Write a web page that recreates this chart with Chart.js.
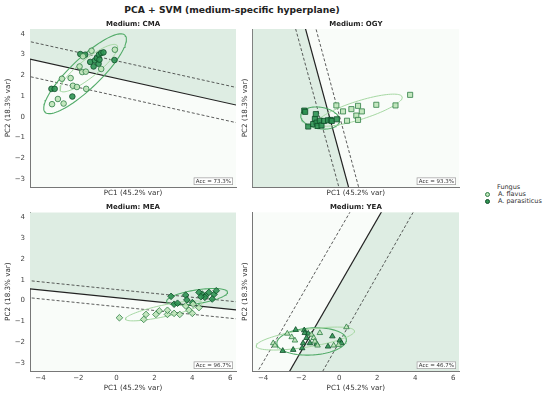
<!DOCTYPE html>
<html>
<head>
<meta charset="utf-8">
<script src="https://cdn.jsdelivr.net/npm/chart.js@4.4.0/dist/chart.umd.min.js"></script>
<style>
  body { margin: 0; background: #fff; width: 550px; height: 394px; overflow: hidden; position: relative; font-family: 'DejaVu Sans', sans-serif; }
  canvas { position: absolute; left: 0; top: 0; }
  #title { position: absolute; left: 0; width: 464px; top: 3.5px; line-height: 11px; text-align: center; font-weight: bold; font-size: 9.2px; color: #222; }
  .lg { position: absolute; font-size: 6.5px; color: #333; line-height: 8px; white-space: nowrap; }
  .mk { position: absolute; width: 5px; height: 5px; border-radius: 50%; box-sizing: border-box; }
</style>
</head>
<body>
<div id="title">PCA + SVM (medium-specific hyperplane)</div>
<div class="lg" style="left:497px;top:183px">Fungus</div>
<span class="mk" style="left:485px;top:191.5px;background:#bfe5b9;border:0.9px solid #2e7d45"></span>
<div class="lg" style="left:498px;top:190px">A. flavus</div>
<span class="mk" style="left:485px;top:198.5px;background:#2f9453;border:0.9px solid #0f4d28"></span>
<div class="lg" style="left:498px;top:197px">A. parasiticus</div>
<canvas id="c0" width="550" height="394"></canvas>
<canvas id="c1" width="550" height="394"></canvas>
<canvas id="c2" width="550" height="394"></canvas>
<canvas id="c3" width="550" height="394"></canvas>
<script>
// axes (shared by the four panels)
const xTicks = [-4, -2, 0, 2, 4, 6];
const yTicks = [-3, -2, -1, 0, 1, 2, 3, 4];
const xRange = [-4.55, 6.3];
const yRange = [-3.39, 4.24];

const media = ['CMA', 'OGY', 'MEA', 'YEA'];
const accuracy = ['73.3%', '93.3%', '96.7%', '46.7%'];

// PCA scores [PC1, PC2]
const cmaFlavus = [[-3.39,0.61],[-3.08,0.86],[-2.78,0.64],[-2.87,1.84],[-2.41,1.87],[-2.29,1.50],[-2.08,1.44],[-1.59,1.35],[-1.94,2.43],[-1.80,2.16],[-1.61,2.18],[-1.31,3.19],[-0.80,2.31],[-0.08,3.24],[-1.76,2.92]];
const cmaParasiticus = [[-3.42,1.35],[-3.25,1.35],[-2.32,0.98],[-1.90,3.03],[-1.64,3.00],[-1.38,2.65],[-1.20,2.43],[-1.13,2.72],[-1.03,2.84],[-0.92,3.00],[-0.80,3.08],[-0.68,3.11],[-0.94,2.56],[-0.10,2.74],[-0.89,2.76]];

const ogyFlavus = [[-0.15,0.55],[0.20,0.26],[0.64,0.37],[0.99,0.53],[1.19,0.26],[0.90,0.06],[0.99,-0.15],[0.41,-0.19],[1.95,0.58],[2.96,0.55],[3.73,1.06]];
const ogyParasiticus = [[-1.84,0.30],[-1.79,0.24],[-1.63,-0.47],[-1.37,-0.35],[-1.28,-0.10],[-1.23,0.13],[-1.19,-0.28],[-1.14,-0.44],[-1.02,-0.19],[-0.93,-0.42],[-0.80,-0.20],[-0.59,-0.17],[-0.45,-0.15],[-0.39,-0.20],[-0.13,-0.12]];

const meaFlavus = [[0.16,-0.83],[1.44,-0.91],[1.56,-0.67],[2.08,-0.67],[2.26,-0.50],[2.69,-0.67],[2.69,-0.47],[3.04,-0.62],[3.34,-0.67],[3.83,-0.47],[4.00,-0.62],[4.35,-0.34],[3.65,-0.26],[4.04,-0.18]];
const meaParasiticus = [[2.88,0.20],[3.65,0.26],[3.71,0.03],[4.00,-0.10],[4.52,0.31],[4.70,0.23],[4.87,0.39],[5.14,0.29],[5.26,0.47],[5.05,0.07],[4.66,0.15],[3.04,-0.18],[3.22,-0.13],[4.35,0.39],[4.45,0.18]];

const yeaFlavus = [[-3.47,-2.05],[-3.38,-2.16],[-2.73,-1.59],[-2.50,-1.76],[-2.33,-1.92],[-1.46,-1.64],[-1.34,-1.80],[-1.28,-1.97],[-1.14,-2.16],[-1.02,-1.56],[-0.29,-2.16],[-0.03,-2.13],[0.38,-1.28]];
const yeaParasiticus = [[-2.29,-1.41],[-1.84,-1.43],[-1.81,-1.56],[-1.63,-1.59],[-1.72,-1.80],[-1.90,-2.05],[-1.54,-2.05],[-1.19,-2.08],[-2.97,-2.42],[-2.42,-2.37],[-1.95,-2.29],[-0.59,-2.21],[-0.36,-1.72],[0.03,-1.92],[0.12,-2.05]];

// SVM hyperplane and margins, two points on each line
const cmaLines = { boundary: [[-4.55,2.79],[6.3,0.57]], marginA: [[-4.55,3.63],[6.3,1.42]], marginB: [[-4.55,1.94],[6.3,-0.28]] };
const ogyLines = { boundary: [[-1.77,4.24],[0.49,-3.39]], marginA: [[-2.29,4.24],[-0.02,-3.39]], marginB: [[-1.22,4.24],[1.02,-3.39]] };
const meaLines = { boundary: [[-4.55,0.56],[6.3,-0.45]], marginA: [[-4.55,0.95],[6.3,-0.06]], marginB: [[-4.55,0.13],[6.3,-0.88]] };
const yeaLines = { boundary: [[-2.6,-3.39],[2.21,4.24]], marginA: [[-4.27,-3.39],[0.56,4.24]], marginB: [[-0.86,-3.39],[3.89,4.24]] };

// confidence ellipses [cx, cy, semi-major, semi-minor, angle deg]
const cmaEllipses = { flavus: [-1.45,2.35,1.85,0.45,36], parasiticus: [-1.65,2.08,2.81,0.75,41] };
const ogyEllipses = { flavus: [1.07,0.32,2.33,0.45,16], parasiticus: [-1.0,-0.06,1.03,0.52,-8] };
const meaEllipses = { flavus: [2.5,-0.5,2.06,0.28,11], parasiticus: [4.25,0.18,1.62,0.33,8] };
const yeaEllipses = { flavus: [-1.78,-1.83,2.61,0.42,8], parasiticus: [-1.45,-1.97,1.83,0.65,3] };

const GREEN_ZONE = 'rgb(222,237,227)';
const WHITE_ZONE = 'rgb(249,252,249)';
const FONT = "'DejaVu Sans', sans-serif";

const panels = [
  { flavus: cmaFlavus, para: cmaParasiticus, lines: cmaLines, ell: cmaEllipses, green: 'end', marker: 'circle', r: 2.8,
    area: { left: 30, top: 29, right: 236, bottom: 187 }, col: 0, row: 0 },
  { flavus: ogyFlavus, para: ogyParasiticus, lines: ogyLines, ell: ogyEllipses, green: 'start', marker: 'rect', r: 3.6,
    area: { left: 252.7, top: 29, right: 459, bottom: 187 }, col: 1, row: 0 },
  { flavus: meaFlavus, para: meaParasiticus, lines: meaLines, ell: meaEllipses, green: 'end', marker: 'rectRot', r: 3.3,
    area: { left: 30, top: 212.3, right: 236, bottom: 371 }, col: 0, row: 1 },
  { flavus: yeaFlavus, para: yeaParasiticus, lines: yeaLines, ell: yeaEllipses, green: 'start', marker: 'triangle', r: 3.2,
    area: { left: 252.7, top: 212.3, right: 459, bottom: 371 }, col: 1, row: 1 }
];

const toXY = pts => pts.map(([x, y]) => ({ x, y }));

// stretch a two-point line well past the frame (the chart clips it)
function extend([[x1, y1], [x2, y2]]) {
  return [-4, 5].map(t => ({ x: x1 + (x2 - x1) * t, y: y1 + (y2 - y1) * t }));
}

function ellipse([cx, cy, a, b, deg]) {
  const r = deg * Math.PI / 180, pts = [];
  for (let i = 0; i <= 90; i++) {
    const t = i / 90 * 2 * Math.PI;
    pts.push({
      x: cx + a * Math.cos(t) * Math.cos(r) - b * Math.sin(t) * Math.sin(r),
      y: cy + a * Math.cos(t) * Math.sin(r) + b * Math.sin(t) * Math.cos(r)
    });
  }
  return pts;
}

const zoneBackground = {
  id: 'zoneBackground',
  beforeDraw(chart) {
    const { ctx, chartArea: a } = chart;
    ctx.save();
    ctx.fillStyle = WHITE_ZONE;
    ctx.fillRect(a.left, a.top, a.right - a.left, a.bottom - a.top);
    ctx.restore();
  }
};

const accBox = {
  id: 'accBox',
  afterDatasetsDraw(chart, args, opts) {
    const { ctx, chartArea: a } = chart;
    ctx.save();
    ctx.font = '5.5px ' + FONT;
    const txt = 'Acc = ' + opts.text;
    const w = ctx.measureText(txt).width + 4, h = 7.5;
    const x = a.right - 3 - w, y = a.bottom - 2 - h;
    ctx.fillStyle = 'rgba(255,255,255,0.9)';
    ctx.fillRect(x, y, w, h);
    ctx.strokeStyle = '#999';
    ctx.lineWidth = 0.7;
    ctx.strokeRect(x + 0.35, y + 0.35, w - 0.7, h - 0.7);
    ctx.fillStyle = '#333';
    ctx.textBaseline = 'middle';
    ctx.fillText(txt, x + 2, y + h / 2 + 0.3);
    ctx.restore();
  }
};

panels.forEach((p, i) => {
  const yw = p.col === 0 ? 26.3 : 12;
  const yTitleLeft = p.col === 0 ? 3.7 : 240.7;
  const xh = p.row === 0 ? 10.3 : 21.3;
  const titleH = 9.2;

  const lineDs = (pts, dash, width, color) => ({
    type: 'line', data: extend(pts), borderColor: color, borderWidth: width, borderDash: dash,
    pointRadius: 0, fill: false, tension: 0, order: 2
  });

  new Chart(document.getElementById('c' + i), {
    type: 'scatter',
    data: {
      datasets: [
        { label: 'A. flavus', data: toXY(p.flavus), pointStyle: p.marker, pointRadius: p.r,
          backgroundColor: 'rgba(190,228,184,0.9)', borderColor: '#2e7d45', borderWidth: 0.8, order: 0 },
        { label: 'A. parasiticus', data: toXY(p.para), pointStyle: p.marker, pointRadius: p.r,
          backgroundColor: 'rgba(47,148,83,0.9)', borderColor: '#0f4d28', borderWidth: 0.8, order: 0 },
        { type: 'line', data: ellipse(p.ell.flavus), borderColor: '#a6d8a3', borderWidth: 1, pointRadius: 0, fill: false, order: 1 },
        { type: 'line', data: ellipse(p.ell.parasiticus), borderColor: '#52ab69', borderWidth: 1.1, pointRadius: 0, fill: false, order: 1 },
        lineDs(p.lines.boundary, [], 1.2, '#222'),
        lineDs(p.lines.marginA, [3, 2], 0.8, '#333'),
        lineDs(p.lines.marginB, [3, 2], 0.8, '#333'),
        { type: 'line', data: extend(p.lines.boundary), borderWidth: 0, pointRadius: 0,
          fill: p.green, backgroundColor: GREEN_ZONE, order: 3 }
      ]
    },
    options: {
      responsive: false,
      animation: false,
      devicePixelRatio: 1,
      events: [],
      layout: {
        padding: {
          left: yTitleLeft,
          right: 550 - p.area.right,
          top: p.area.top - titleH,
          bottom: 394 - p.area.bottom - xh
        }
      },
      plugins: {
        legend: { display: false },
        tooltip: { enabled: false },
        title: {
          display: true, fullSize: false, text: 'Medium: ' + media[i], color: '#222',
          font: { family: FONT, size: 7, weight: 'bold' }, padding: { top: 0, bottom: 0.8 }
        },
        accBox: { text: accuracy[i] }
      },
      scales: {
        x: {
          type: 'linear', min: xRange[0], max: xRange[1],
          afterBuildTicks: s => { s.ticks = xTicks.map(v => ({ value: v })); },
          afterFit: s => { s.height = xh; },
          grid: { display: true, drawOnChartArea: false, drawTicks: false },
          border: { display: true, color: '#777', width: 1 },
          ticks: { display: p.row === 1, padding: 3, color: '#444', font: { family: FONT, size: 7 },
            maxRotation: 0, callback: v => String(v).replace('-', '\u2212') },
          title: { display: true, text: 'PC1 (45.2% var)', color: '#333', font: { family: FONT, size: 7.2 }, padding: 0 }
        },
        y: {
          type: 'linear', min: yRange[0], max: yRange[1],
          afterBuildTicks: s => { s.ticks = yTicks.map(v => ({ value: v })); },
          afterFit: s => { s.width = yw; },
          grid: { display: true, drawOnChartArea: false, drawTicks: false },
          border: { display: true, color: '#777', width: 1 },
          ticks: { display: p.col === 0, padding: 5, color: '#444', font: { family: FONT, size: 7 },
            callback: v => String(v).replace('-', '\u2212') },
          title: { display: true, text: 'PC2 (18.3% var)', color: '#333', font: { family: FONT, size: 7.2 }, padding: 0 }
        }
      }
    },
    plugins: [zoneBackground, accBox]
  });
});
</script>
</body>
</html>
